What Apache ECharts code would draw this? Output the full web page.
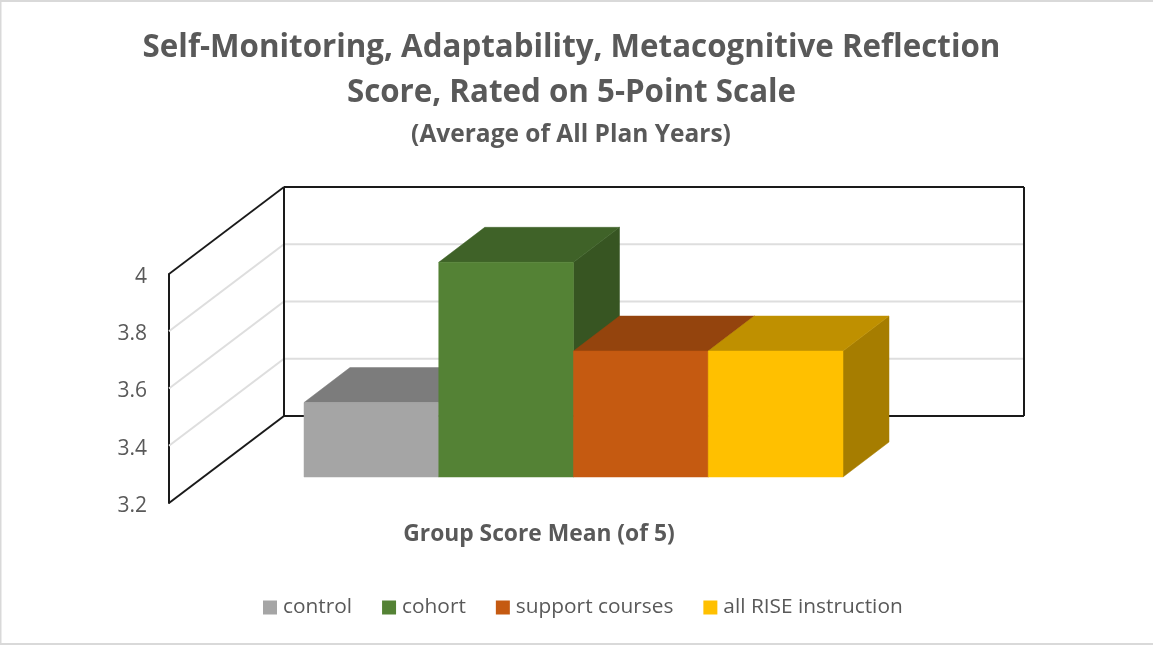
<!DOCTYPE html>
<html>
<head>
<meta charset="utf-8">
<style>html,body{margin:0;padding:0;background:#fff}#chart{width:1153px;height:645px}</style>
<script src="https://cdn.jsdelivr.net/npm/echarts@6/dist/echarts.min.js"></script>
</head>
<body>
<div id="chart"></div>
<script>
const titleLines = ['Self-Monitoring, Adaptability, Metacognitive Reflection', 'Score, Rated on 5-Point Scale'];
const subtitleText = '(Average of All Plan Years)';
const categories = ['Group Score Mean (of 5)'];
const seriesNames = ['control', 'cohort', 'support courses', 'all RISE instruction'];
const seriesValues = [3.46, 3.95, 3.64, 3.64];
const seriesColors = ['#A5A5A5', '#548235', '#C55A11', '#FFC000'];
const yMin = 3.2, yMax = 4, yStep = 0.2;
const gridValues = [3.4, 3.6, 3.8];

const FONT = '"Open Sans", sans-serif';
const TEXT = '#595959';
const WALL_DX = 115, WALL_DY = -87;     // floor depth in pixels
const BAR_DX = 34.5, BAR_DY = -26;      // front face of bars from the front plane
const DEPTH_DX = 46, DEPTH_DY = -35;    // bar depth
const BAR_SHARE = 539 / 740;            // share of the band that the bars fill

const shade = (hex, k) => {
  const n = parseInt(hex.slice(1), 16);
  const c = s => Math.round(((n >> s) & 255) * k);
  return `rgb(${c(16)},${c(8)},${c(0)})`;
};

function renderBar(i) {
  return function (params, api) {
    const top = api.coord([0, api.value(1)]);
    const base = api.coord([0, yMin]);
    const w = api.size([1, 0])[0] * BAR_SHARE / seriesNames.length;
    const x0 = top[0] + BAR_DX + (i - seriesNames.length / 2) * w;
    const x1 = x0 + w;
    const yT = top[1] + BAR_DY, yB = base[1] + BAR_DY;
    const col = seriesColors[i];
    const poly = (points, fill) => ({
      type: 'polygon', shape: { points },
      style: { fill, stroke: fill, lineWidth: 0.5 }
    });
    return {
      type: 'group',
      children: [
        poly([[x1, yT], [x1 + DEPTH_DX, yT + DEPTH_DY], [x1 + DEPTH_DX, yB + DEPTH_DY], [x1, yB]], shade(col, 0.65)),
        poly([[x0, yT], [x0 + DEPTH_DX, yT + DEPTH_DY], [x1 + DEPTH_DX, yT + DEPTH_DY], [x1, yT]], shade(col, 0.75)),
        poly([[x0, yT], [x1, yT], [x1, yB], [x0, yB]], col)
      ]
    };
  };
}

function renderFrame(params, api) {
  const t = api.coord([0, yMax]), b = api.coord([0, yMin]);
  const bw = api.size([1, 0])[0];
  const l = t[0] - bw / 2, r = l + bw;
  const line = (x1, y1, x2, y2, w) => ({
    type: 'line', shape: { x1, y1, x2, y2 }, style: { stroke: '#1a1a1a', lineWidth: w }
  });
  return {
    type: 'group',
    children: [
      line(l, t[1], l + WALL_DX, t[1] + WALL_DY, 1.75),
      line(l, b[1], l + WALL_DX, b[1] + WALL_DY, 2),
      line(l + WALL_DX, t[1] + WALL_DY, l + WALL_DX, b[1] + WALL_DY, 2),
      line(l + WALL_DX, t[1] + WALL_DY, r + WALL_DX, t[1] + WALL_DY, 2),
      line(l + WALL_DX, b[1] + WALL_DY, r + WALL_DX, b[1] + WALL_DY, 2),
      line(r + WALL_DX, t[1] + WALL_DY, r + WALL_DX, b[1] + WALL_DY, 2)
    ]
  };
}

function renderGridLine(params, api) {
  const p = api.coord([0, api.value(1)]);
  const bw = api.size([1, 0])[0];
  const l = p[0] - bw / 2, r = l + bw;
  return {
    type: 'polyline',
    shape: { points: [[l, p[1]], [l + WALL_DX, p[1] + WALL_DY], [r + WALL_DX, p[1] + WALL_DY]] },
    style: { fill: 'none', stroke: '#dedede', lineWidth: 2 }
  };
}

const option = {
  animation: false,
  backgroundColor: '#fff',
  title: [
    {
      text: titleLines.join('\n'),
      left: 566.5, top: 21, textAlign: 'center',
      textStyle: { fontFamily: FONT, fontSize: 31.3, fontWeight: 'bold', color: TEXT, lineHeight: 45 }
    },
    {
      text: subtitleText,
      left: 566, top: 116, textAlign: 'center',
      textStyle: { fontFamily: FONT, fontSize: 24.5, fontWeight: 'bold', color: TEXT, lineHeight: 28 }
    }
  ],
  legend: {
    data: seriesNames,
    left: 258, top: 592, icon: 'rect', itemWidth: 14, itemHeight: 14, itemGap: 30,
    selectedMode: false,
    textStyle: { fontFamily: FONT, fontSize: 20.85, color: TEXT, padding: [0, 0, 0, 1] }
  },
  grid: { left: 169, top: 274, width: 740, height: 229, containLabel: false },
  xAxis: {
    type: 'category', data: categories,
    axisLine: { show: false }, axisTick: { show: false },
    axisLabel: { fontFamily: FONT, fontSize: 22.8, fontWeight: 'bold', color: TEXT, margin: 20 }
  },
  yAxis: {
    type: 'value', min: yMin, max: yMax, interval: yStep,
    axisLine: { show: true, lineStyle: { color: '#1a1a1a', width: 2 } },
    axisTick: { show: false }, splitLine: { show: false },
    axisLabel: {
      margin: 22, formatter: '{a|{value}}',
      rich: { a: { fontFamily: FONT, fontSize: 21, color: TEXT, padding: [6, 0, 0, 0] } }
    }
  },
  graphic: [
    { type: 'rect', silent: true, z: 100, shape: { x: 0, y: 0, width: 1153, height: 2 }, style: { fill: '#d9d9d9' } },
    { type: 'rect', silent: true, z: 100, shape: { x: 0, y: 0, width: 1.5, height: 645 }, style: { fill: '#d9d9d9' } },
    { type: 'rect', silent: true, z: 100, shape: { x: 0, y: 643, width: 1153, height: 2 }, style: { fill: '#d9d9d9' } }
  ],
  series: [
    { type: 'custom', silent: true, renderItem: renderGridLine, encode: { x: 0, y: 1 },
      data: gridValues.map(v => [0, v]) },
    { type: 'custom', silent: true, renderItem: renderFrame, encode: { x: 0, y: 1 },
      data: [[0, yMax]] }
  ].concat(seriesNames.map((name, i) => ({
    type: 'custom', name, renderItem: renderBar(i), encode: { x: 0, y: 1 },
    itemStyle: { color: seriesColors[i] },
    data: [[0, seriesValues[i]]]
  })))
};

echarts.init(document.getElementById('chart'), null, { renderer: 'canvas' }).setOption(option);
</script>
</body>
</html>
